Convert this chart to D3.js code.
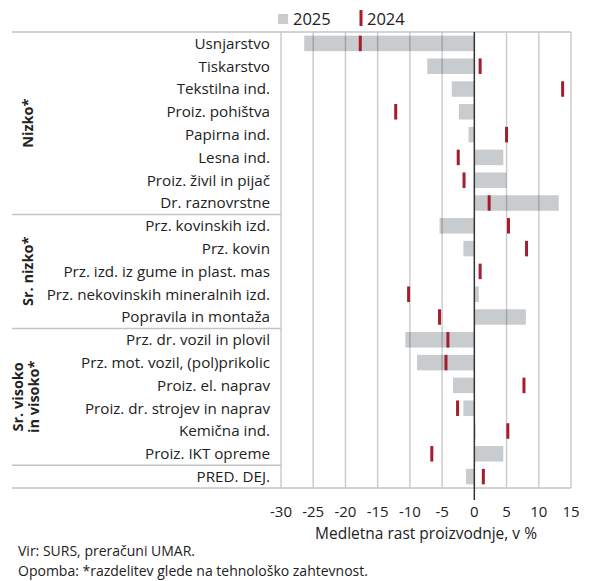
<!DOCTYPE html>
<html lang="sl">
<head>
<meta charset="utf-8">
<title>Medletna rast proizvodnje</title>
<script src="https://cdn.jsdelivr.net/npm/d3@7"></script>
<style>
  body { margin: 0; background: #fff; }
  text { font-family: "Open Sans", "Liberation Sans", Arial, sans-serif; fill: #222; }
</style>
</head>
<body>
<script>
// categories, top to bottom
var categories = [
  "Usnjarstvo", "Tiskarstvo", "Tekstilna ind.", "Proiz. pohištva", "Papirna ind.",
  "Lesna ind.", "Proiz. živil in pijač", "Dr. raznovrstne",
  "Prz. kovinskih izd.", "Prz. kovin", "Prz. izd. iz gume in plast. mas",
  "Prz. nekovinskih mineralnih izd.", "Popravila in montaža",
  "Prz. dr. vozil in plovil", "Prz. mot. vozil, (pol)prikolic", "Proiz. el. naprav",
  "Proiz. dr. strojev in naprav", "Kemična ind.", "Proiz. IKT opreme",
  "PRED. DEJ."
];
var values2025 = [-26.4, -7.3, -3.5, -2.4, -0.9, 4.5, 5.0, 13.1,
                  -5.4, -1.7, 0.0, 0.7, 8.0,
                  -10.7, -8.9, -3.3, -1.7, 0.2, 4.5,
                  -1.3];
var values2024 = [-17.7, 0.9, 13.7, -12.2, 5.0, -2.5, -1.6, 2.3,
                  5.3, 8.1, 0.9, -10.2, -5.4,
                  -4.1, -4.4, 7.7, -2.6, 5.2, -6.6,
                  1.4];
// groups: label lines, first row, last row
var groupLabels = [["Nizko*"], ["Sr. nizko*"], ["Sr. visoko", "in visoko*"], []];
var groupStart = [0, 8, 13, 19];
var groupEnd = [7, 12, 18, 19];
var xTicks = [-30, -25, -20, -15, -10, -5, 0, 5, 10, 15];

var w = 590, h = 581;
var plotLeft = 281, plotRight = 571, plotTop = 32, plotBottom = 488, tableLeft = 12;

var svg = d3.select("body").append("svg")
  .attr("width", w).attr("height", h);

var x = d3.scaleLinear().domain([-30, 15]).range([plotLeft, plotRight]);
var y = d3.scaleBand().domain(d3.range(categories.length))
  .range([plotTop, plotBottom]).paddingInner(0.32).paddingOuter(0.16);
var step = y.step();

// bars 2025
svg.selectAll("rect.bar")
  .data(values2025)
  .enter().append("rect")
  .attr("class", "bar")
  .attr("x", function(d) { return x(Math.min(0, d)); })
  .attr("y", function(d, i) { return y(i); })
  .attr("width", function(d) { return Math.abs(x(d) - x(0)); })
  .attr("height", y.bandwidth())
  .attr("fill", "#c9ccce");

// vertical gridlines
svg.selectAll("line.grid")
  .data(xTicks.filter(function(d) { return d !== 0; }))
  .enter().append("line")
  .attr("class", "grid")
  .attr("x1", function(d) { return x(d); })
  .attr("x2", function(d) { return x(d); })
  .attr("y1", plotTop).attr("y2", plotBottom)
  .attr("stroke", "#000").attr("stroke-opacity", 0.2).attr("stroke-width", 1.5);

// frame: top and bottom lines across label table and plot
[plotTop, plotBottom].forEach(function(yy) {
  svg.append("line")
    .attr("x1", tableLeft).attr("x2", plotRight)
    .attr("y1", yy).attr("y2", yy)
    .attr("stroke", "#c4c4c4").attr("stroke-width", 1.5);
});

// group separators in label table
groupEnd.slice(0, 3).forEach(function(e) {
  var yy = plotTop + (e + 1) * step;
  svg.append("line")
    .attr("x1", tableLeft).attr("x2", plotLeft)
    .attr("y1", yy).attr("y2", yy)
    .attr("stroke", "#c4c4c4").attr("stroke-width", 1.5);
});

// zero line
svg.append("line")
  .attr("x1", x(0)).attr("x2", x(0))
  .attr("y1", plotTop).attr("y2", 500)
  .attr("stroke", "#333").attr("stroke-width", 1.5);

// 2024 markers
svg.selectAll("rect.mark")
  .data(values2024)
  .enter().append("rect")
  .attr("class", "mark")
  .attr("x", function(d) { return x(d) - 1.5; })
  .attr("y", function(d, i) { return y(i); })
  .attr("width", 3)
  .attr("height", y.bandwidth())
  .attr("fill", "#a51d2d");

// category labels
svg.selectAll("text.cat")
  .data(categories)
  .enter().append("text")
  .attr("class", "cat")
  .attr("x", 270)
  .attr("y", function(d, i) { return y(i) + y.bandwidth() / 2; })
  .attr("dy", "0.35em")
  .attr("text-anchor", "end")
  .attr("font-size", "15.2px")
  .text(function(d) { return d; });

// group labels (rotated)
groupLabels.forEach(function(lines, gi) {
  if (!lines.length) return;
  var cy = plotTop + (groupStart[gi] + groupEnd[gi] + 1) / 2 * step;
  var cx = lines.length === 1 ? 33 : 31;
  var t = svg.append("text")
    .attr("transform", "translate(" + cx + "," + cy + ") rotate(-90)")
    .attr("text-anchor", "middle")
    .attr("font-size", "14.5px")
    .attr("font-weight", "bold");
  lines.forEach(function(l, li) {
    t.append("tspan").attr("x", 0)
      .attr("dy", li === 0 ? (-(lines.length - 1) * 0.55) + "em" : "1.1em")
      .text(l);
  });
});

// x axis tick labels
svg.selectAll("text.tick")
  .data(xTicks)
  .enter().append("text")
  .attr("class", "tick")
  .attr("x", function(d) { return x(d); })
  .attr("y", 517)
  .attr("text-anchor", "middle")
  .attr("font-size", "15px")
  .text(function(d) { return d; });

svg.append("text")
  .attr("x", (plotLeft + plotRight) / 2).attr("y", 539)
  .attr("text-anchor", "middle")
  .attr("font-size", "15.5px")
  .text("Medletna rast proizvodnje, v %");

// legend
svg.append("rect").attr("x", 278).attr("y", 14).attr("width", 10).attr("height", 10)
  .attr("fill", "#c9ccce");
svg.append("text").attr("x", 293).attr("y", 25).attr("font-size", "16.5px").text("2025");
svg.append("rect").attr("x", 359.5).attr("y", 10).attr("width", 3).attr("height", 16)
  .attr("fill", "#a51d2d");
svg.append("text").attr("x", 367).attr("y", 25).attr("font-size", "16.5px").text("2024");

// notes
svg.append("text").attr("x", 18).attr("y", 556).attr("font-size", "14px")
  .text("Vir: SURS, preračuni UMAR.");
svg.append("text").attr("x", 18).attr("y", 576).attr("font-size", "14px")
  .text("Opomba: *razdelitev glede na tehnološko zahtevnost.");
</script>
</body>
</html>
